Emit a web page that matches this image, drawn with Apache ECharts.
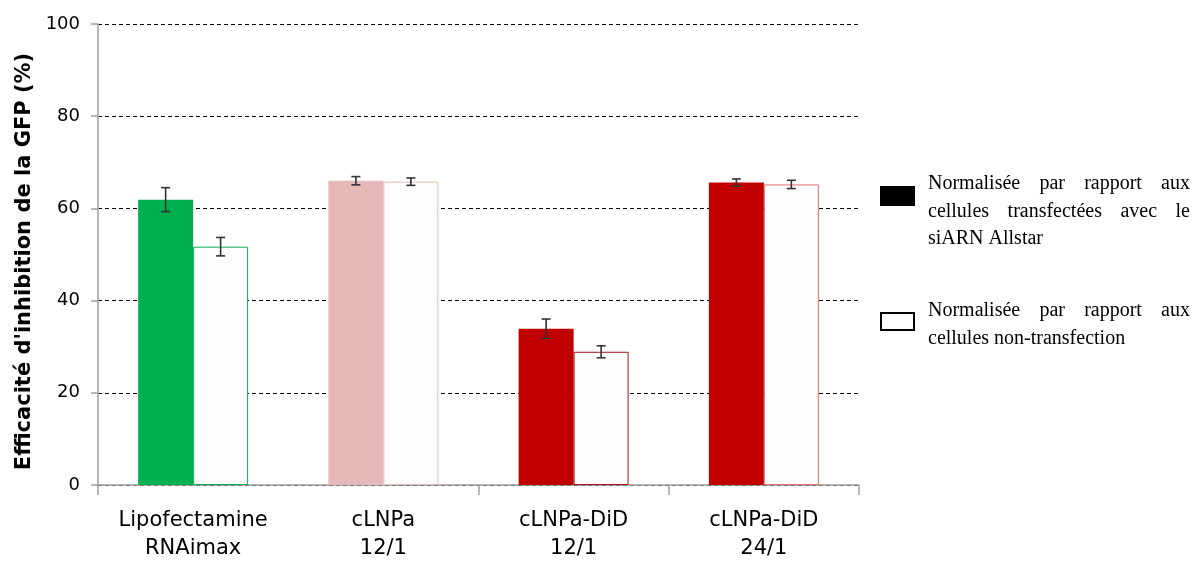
<!DOCTYPE html>
<html>
<head>
<meta charset="utf-8">
<script src="https://cdn.jsdelivr.net/npm/echarts@6/dist/echarts.min.js"></script>
<style>
html,body{margin:0;padding:0;background:#fff;}
#chart{width:1194px;height:563px;}
</style>
</head>
<body>
<div id="chart"></div>
<script>
const categories = ['Lipofectamine\nRNAimax', 'cLNPa\n12/1', 'cLNPa-DiD\n12/1', 'cLNPa-DiD\n24/1'];
const seriesNames = ['Normalisée par rapport aux cellules transfectées avec le siARN Allstar',
                     'Normalisée par rapport aux cellules non-transfection'];
const valuesAllstar = [61.9, 66.0, 33.9, 65.6];
const errAllstar = [2.6, 0.9, 2.1, 0.8];
const valuesNonTransf = [51.7, 65.8, 28.9, 65.2];
const errNonTransf = [2.0, 0.8, 1.3, 0.9];
const yTicks = [0, 20, 40, 60, 80, 100];
const legendLines1 = ['Normalisée par rapport aux', 'cellules transfectées avec le', 'siARN Allstar'];
const legendLines2 = ['Normalisée par rapport aux', 'cellules non-transfection'];

const fillA = ['#00B050', '#E6B8B7', '#C00000', '#C00000'];
const borderB = ['#00B050', '#E6B8B7', '#A31515', '#E07070'];
const BAR_FRAC = 0.289;

const chart = echarts.init(document.getElementById('chart'), null, {renderer: 'canvas'});

function errRender(sign) {
  return function (params, api) {
    const ci = api.value(0), v = api.value(1), e = api.value(2);
    const c = api.coord([ci, v]);
    const bw = api.size([1, 0])[0] * BAR_FRAC;
    const x = c[0] + sign * bw / 2;
    const yt = api.coord([ci, v + e])[1];
    const yb = api.coord([ci, v - e])[1];
    const cap = 4.5;
    const st = {stroke: '#333', lineWidth: 1.6};
    return {
      type: 'group',
      children: [
        {type: 'line', shape: {x1: x, y1: yt, x2: x, y2: yb}, style: st},
        {type: 'line', shape: {x1: x - cap, y1: yt, x2: x + cap, y2: yt}, style: st},
        {type: 'line', shape: {x1: x - cap, y1: yb, x2: x + cap, y2: yb}, style: st}
      ]
    };
  };
}

// justified legend text
const FONT_SIZE = 20, FONT_FAMILY = 'Liberation Serif';
const mctx = document.createElement('canvas').getContext('2d');
mctx.font = FONT_SIZE + 'px "' + FONT_FAMILY + '"';
function paragraph(lines, x0, x1, y0, lh) {
  const out = [];
  lines.forEach(function (line, li) {
    const y = y0 + li * lh;
    const words = line.split(' ');
    const last = li === lines.length - 1;
    if (last || words.length < 2) {
      out.push({type: 'text', x: x0, y: y, style: {text: line, fontSize: FONT_SIZE, fontFamily: FONT_FAMILY, fill: '#000', verticalAlign: 'middle', align: 'left'}});
      return;
    }
    const widths = words.map(function (w) { return mctx.measureText(w).width; });
    const total = widths.reduce(function (a, b) { return a + b; }, 0);
    const gap = (x1 - x0 - total) / (words.length - 1);
    let x = x0;
    words.forEach(function (w, wi) {
      out.push({type: 'text', x: x, y: y, style: {text: w, fontSize: FONT_SIZE, fontFamily: FONT_FAMILY, fill: '#000', verticalAlign: 'middle', align: 'left'}});
      x += widths[wi] + gap;
    });
  });
  return out;
}

const graphics = [
  {type: 'rect', shape: {x: 880, y: 186, width: 35, height: 20}, style: {fill: '#000'}},
  {type: 'rect', shape: {x: 881, y: 313, width: 33, height: 17}, style: {fill: '#fff', stroke: '#000', lineWidth: 2}}
].concat(paragraph(legendLines1, 928, 1190, 184, 27.5))
 .concat(paragraph(legendLines2, 928, 1190, 311, 27.5));

const option = {
  backgroundColor: '#fff',
  animation: false,
  grid: {left: 98, right: 335, top: 24, bottom: 77, containLabel: false},
  xAxis: {
    type: 'category',
    data: categories,
    axisLine: {lineStyle: {color: '#A0A0A0', width: 1.5}},
    axisTick: {show: true, length: 10, lineStyle: {color: '#A0A0A0', width: 1.5},
               interval: function (idx) { return idx !== 1; }},
    axisLabel: {interval: 0, color: '#000', fontSize: 21, fontFamily: 'DejaVu Sans', lineHeight: 28, margin: 22}
  },
  yAxis: {
    type: 'value',
    min: 0, max: 100, interval: 20,
    name: "Efficacité d'inhibition de la GFP (%)",
    nameLocation: 'middle',
    nameGap: 62,
    nameTextStyle: {color: '#000', fontSize: 21, fontWeight: 'bold', fontFamily: 'DejaVu Sans', padding: [0, 14, 0, 0]},
    axisLine: {show: true, lineStyle: {color: '#A0A0A0', width: 1.5}},
    axisTick: {show: true, length: 7, lineStyle: {color: '#A0A0A0', width: 1.5}},
    axisLabel: {color: '#000', fontSize: 18, fontFamily: 'DejaVu Sans', margin: 18,
                formatter: function (v) { return yTicks.indexOf(v) >= 0 ? String(v) : ''; }},
    splitLine: {show: true, lineStyle: {color: '#000', type: [4, 3], width: 1.2}}
  },
  series: [
    {
      name: seriesNames[0], type: 'bar', barWidth: (BAR_FRAC * 100) + '%', barGap: '0%',
      data: valuesAllstar.map(function (v, i) { return {value: v, itemStyle: {color: fillA[i]}}; }),
      z: 2
    },
    {
      name: seriesNames[1], type: 'bar', barWidth: (BAR_FRAC * 100) + '%', barGap: '0%',
      data: valuesNonTransf.map(function (v, i) { return {value: v, itemStyle: {color: '#FDFDFD', borderColor: borderB[i], borderWidth: 1}}; }),
      z: 2
    },
    {
      type: 'custom', renderItem: errRender(-1), z: 5,
      data: valuesAllstar.map(function (v, i) { return [i, v, errAllstar[i]]; })
    },
    {
      type: 'custom', renderItem: errRender(1), z: 5,
      data: valuesNonTransf.map(function (v, i) { return [i, v, errNonTransf[i]]; })
    }
  ],
  graphic: graphics
};
chart.setOption(option);
</script>
</body>
</html>
